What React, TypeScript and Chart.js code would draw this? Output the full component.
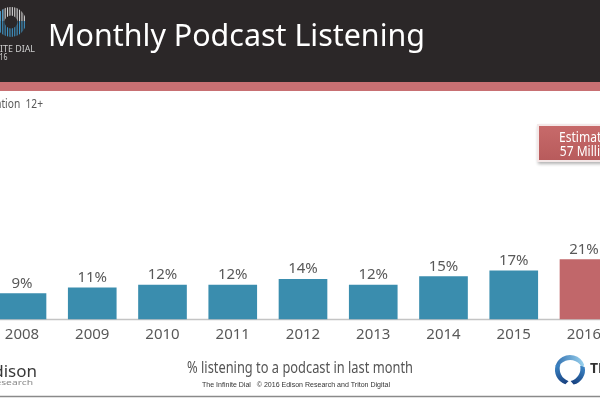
import React, { useEffect, useRef } from 'react';
import { Chart, registerables } from 'chart.js';

Chart.register(...registerables);

// ---- data ----
const years = ['2008', '2009', '2010', '2011', '2012', '2013', '2014', '2015', '2016'];
const listeningPct = [9, 11, 12, 12, 14, 12, 15, 17, 21];
const titleText = 'Monthly Podcast Listening';
const subtitleText = '% listening to a podcast in last month';
const baseNote = 'Total U.S. Population  12+';
const calloutLines = ['Estimated', '57 Million'];
const footerText = 'The Infinite Dial   \u00A9 2016 Edison Research and Triton Digital';
const logoLines = ['THE INFINITE DIAL', '2016'];

const FONT = '"Noto Sans", "Open Sans", sans-serif';
const BLUE = '#3A8DAE';
const RED = '#C1676A';
const GREY_TEXT = '#595959';

function fitText(ctx: CanvasRenderingContext2D, text: string, x: number, y: number, w: number, align: CanvasTextAlign) {
  const m = ctx.measureText(text).width;
  const s = w / m;
  ctx.save();
  ctx.translate(x, y);
  ctx.scale(s, 1);
  ctx.textAlign = align;
  ctx.fillText(text, 0, 0);
  ctx.restore();
}

function scaledText(ctx: CanvasRenderingContext2D, text: string, x: number, y: number, s: number, align: CanvasTextAlign) {
  ctx.save();
  ctx.translate(x, y);
  ctx.scale(s, 1);
  ctx.textAlign = align;
  ctx.fillText(text, 0, 0);
  ctx.restore();
}

const decor = {
  id: 'decor',
  beforeDraw(chart: any) {
    const ctx: CanvasRenderingContext2D = chart.ctx;
    ctx.save();
    ctx.fillStyle = '#ffffff';
    ctx.fillRect(0, 0, 600, 400);
    // header band
    ctx.fillStyle = '#2B2728';
    ctx.fillRect(0, 0, 600, 82);
    ctx.fillStyle = '#C87073';
    ctx.fillRect(0, 82, 600, 9);

    // logo ring with stripes
    ctx.save();
    ctx.beginPath();
    ctx.arc(11, 22, 15, 0, Math.PI * 2);
    ctx.arc(11, 22, 6.5, 0, Math.PI * 2, true);
    ctx.clip();
    for (let x = -5; x <= 28; x += 2.4) {
      ctx.fillStyle = '#D8D8D8';
      ctx.fillRect(x, 6, 1.1, 15);
      ctx.fillStyle = '#3F93C4';
      ctx.fillRect(x, 21, 1.1, 17);
      if (x < 4) {
        ctx.fillRect(x, 6, 1.1, 15);
      }
    }
    ctx.restore();

    ctx.fillStyle = '#CFCFCF';
    ctx.font = `8px ${FONT}`;
    ctx.textBaseline = 'alphabetic';
    fitText(ctx, logoLines[0], 35, 52, 78, 'right');
    fitText(ctx, logoLines[1], 7.5, 60, 16, 'right');

    // title
    ctx.fillStyle = '#FFFFFF';
    ctx.font = `31px ${FONT}`;
    fitText(ctx, titleText, 48, 46, 377, 'left');

    // base note
    ctx.fillStyle = GREY_TEXT;
    ctx.font = `12px ${FONT}`;
    scaledText(ctx, baseNote, 43, 108, 0.85, 'right');
    ctx.restore();
  },
  beforeDatasetsDraw(chart: any) {
    const ctx: CanvasRenderingContext2D = chart.ctx;
    const y = Math.round(chart.scales.y.getPixelForValue(0)) + 0.5;
    ctx.save();
    ctx.strokeStyle = '#C4C4C4';
    ctx.lineWidth = 1.5;
    ctx.beginPath();
    ctx.moveTo(0, y);
    ctx.lineTo(600, y);
    ctx.stroke();
    ctx.restore();
  },
  afterDatasetsDraw(chart: any) {
    const ctx: CanvasRenderingContext2D = chart.ctx;
    const meta = chart.getDatasetMeta(0);
    ctx.save();
    ctx.fillStyle = GREY_TEXT;
    ctx.font = `15px ${FONT}`;
    ctx.textAlign = 'center';
    ctx.textBaseline = 'alphabetic';
    meta.data.forEach((el: any, i: number) => {
      ctx.fillText(`${chart.data.datasets[0].data[i]}%`, el.x, el.y - 6);
    });
    ctx.restore();
  },
  afterDraw(chart: any) {
    const ctx: CanvasRenderingContext2D = chart.ctx;
    ctx.save();
    // callout box
    ctx.save();
    ctx.shadowColor = 'rgba(0,0,0,0.3)';
    ctx.shadowBlur = 3;
    ctx.shadowOffsetX = 1;
    ctx.shadowOffsetY = 2;
    ctx.fillStyle = '#F4E8E8';
    ctx.fillRect(537, 124, 130, 38);
    ctx.restore();
    const g = ctx.createLinearGradient(0, 126, 0, 160);
    g.addColorStop(0, '#C76A6A');
    g.addColorStop(1, '#B85B5C');
    ctx.fillStyle = g;
    ctx.fillRect(539, 126, 126, 34);
    ctx.fillStyle = '#FFFFFF';
    ctx.font = `14px ${FONT}`;
    ctx.textBaseline = 'alphabetic';
    const cs = 0.86;
    const cx = 559 + (ctx.measureText(calloutLines[0]).width * cs) / 2;
    scaledText(ctx, calloutLines[0], cx, 142, cs, 'center');
    scaledText(ctx, calloutLines[1], cx, 156, cs, 'center');

    // subtitle
    ctx.fillStyle = '#555555';
    ctx.font = `16px ${FONT}`;
    fitText(ctx, subtitleText, 300, 373, 226, 'center');

    // footer
    ctx.fillStyle = '#333333';
    ctx.font = `7px "Liberation Sans", Arial, sans-serif`;
    fitText(ctx, footerText, 296, 387, 188, 'center');

    // bottom rule
    ctx.strokeStyle = '#8A8A8A';
    ctx.lineWidth = 1.5;
    ctx.beginPath();
    ctx.moveTo(0, 396.5);
    ctx.lineTo(600, 396.5);
    ctx.stroke();

    // Edison logo text
    ctx.textAlign = 'right';
    ctx.fillStyle = '#3A3A3A';
    ctx.font = `17px ${FONT}`;
    ctx.fillText('Edison', 37, 377);
    ctx.fillStyle = '#8A8A8A';
    ctx.font = `7px ${FONT}`;
    fitText(ctx, 'Research', 33, 384.5, 44, 'right');

    // Triton logo: three tapered crescents
    const cxL = 570;
    const cyL = 370;
    const crescent = (a0: number, a1: number, c1: string, c2: string) => {
      const R = 15;
      const ri = 13;
      const dOff = 3;
      const m = (a0 + a1) / 2;
      const icx = cxL - dOff * Math.cos(m);
      const icy = cyL - dOff * Math.sin(m);
      const gr = ctx.createLinearGradient(
        cxL + R * Math.cos(a0), cyL + R * Math.sin(a0),
        cxL + R * Math.cos(a1), cyL + R * Math.sin(a1),
      );
      gr.addColorStop(0, c1);
      gr.addColorStop(1, c2);
      ctx.fillStyle = gr;
      ctx.beginPath();
      ctx.arc(cxL, cyL, R, a0, a1);
      ctx.arc(icx, icy, ri, a1, a0, true);
      ctx.closePath();
      ctx.fill();
    };
    const d = Math.PI / 180;
    crescent(-165 * d, -20 * d, '#2F6FB0', '#9AD2EE');
    crescent(108 * d, 200 * d, '#173F7E', '#3C86C6');
    crescent(-12 * d, 76 * d, '#3C86C6', '#173F7E');
    ctx.fillStyle = '#333333';
    ctx.font = `bold 14px ${FONT}`;
    ctx.textAlign = 'left';
    ctx.fillText('TRITON', 590, 373);
    ctx.restore();
  },
};

export default function App() {
  const ref = useRef<HTMLCanvasElement | null>(null);
  useEffect(() => {
    if (!ref.current) return;
    const chart = new Chart(ref.current, {
      type: 'bar',
      data: {
        labels: years,
        datasets: [
          {
            data: listeningPct,
            backgroundColor: listeningPct.map((_, i) => (i === listeningPct.length - 1 ? RED : BLUE)),
            barThickness: 48,
            clip: false as any,
          },
        ],
      },
      options: {
        responsive: false,
        animation: false,
        devicePixelRatio: 1,
        layout: { padding: { top: 234, left: 22, right: 16, bottom: 49 } },
        plugins: { legend: { display: false }, tooltip: { enabled: false }, title: { display: false } },
        scales: {
          x: {
            type: 'category',
            offset: false,
            grid: { display: false, drawTicks: false },
            border: { display: false },
            ticks: {
              color: GREY_TEXT,
              font: { family: FONT, size: 15 },
              padding: 7,
              maxRotation: 0,
              autoSkip: false,
            },
            afterFit: (s: any) => {
              s.paddingLeft = 0;
              s.paddingRight = 0;
            },
          },
          y: { display: false, min: 0, max: 30 },
        },
      },
      plugins: [decor],
    });
    return () => chart.destroy();
  }, []);
  return (
    <div style={{ position: 'fixed', left: 0, top: 0, width: 600, height: 400, background: '#fff' }}>
      <canvas ref={ref} width={600} height={400} style={{ display: 'block' }} />
    </div>
  );
}
